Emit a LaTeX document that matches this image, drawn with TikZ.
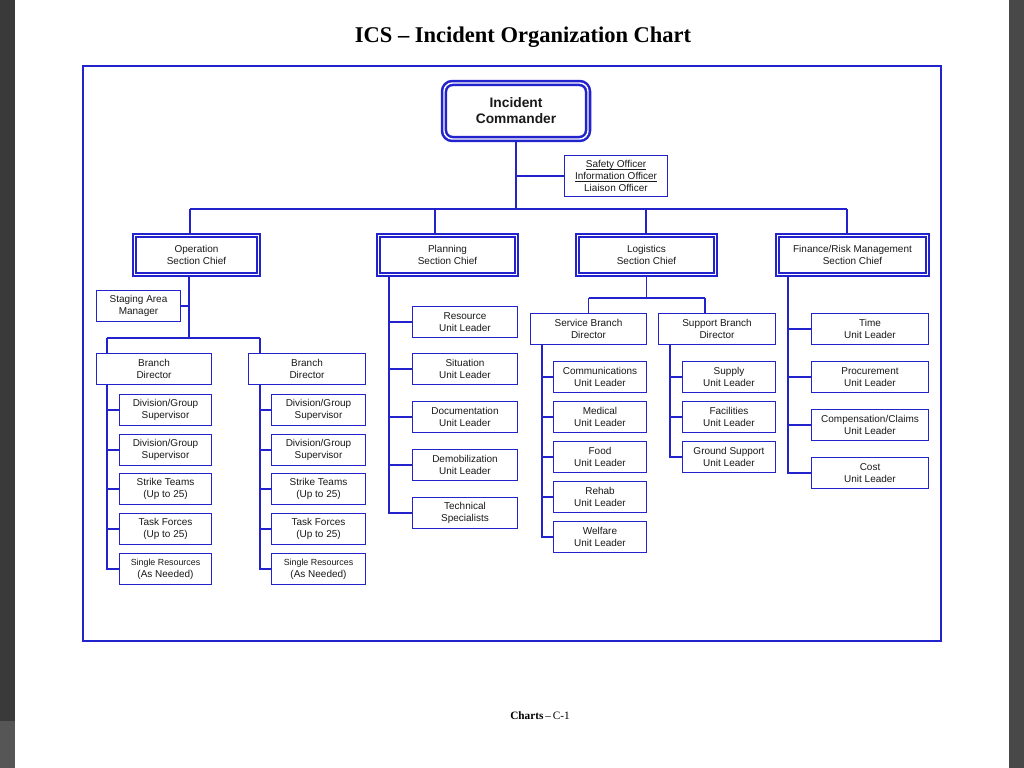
\documentclass[tikz,border=0pt]{standalone}
\usepackage{fontspec}
\setmainfont{Liberation Serif}
\newfontfamily\chartfont{Liberation Sans}
\usepackage{tikz}
\usetikzlibrary{calc}
\definecolor{chartblue}{RGB}{35,35,205}
\definecolor{textgray}{RGB}{25,25,25}
\definecolor{pagedark}{RGB}{58,58,58}
\definecolor{pagelight}{RGB}{86,86,86}
\definecolor{pageright}{RGB}{72,72,72}
\newcommand{\boxfont}{\chartfont\fontsize{7.1}{8.5}\selectfont}
\newcommand{\staffline}[1]{\underline{\smash{#1}}\vphantom{Ofy}}
\tikzset{
	link/.style={draw=chartblue, line width=1.2pt},
	unit/.style={
			draw=chartblue, line width=1.2pt, fill=white, text=textgray,
			font=\boxfont, align=center, inner sep=0pt,
			minimum height=0.78cm, minimum width=#1
		},
	unit/.default=2.33cm,
	section/.style={
			unit=#1, line width=1.1pt, double=white, double distance=0.8pt,
			minimum height=0.975cm
		},
	commander/.style={
			draw=chartblue, line width=1.8pt, double=white, double distance=1pt,
			rounded corners=6pt, fill=white, text=textgray, align=center,
			font=\chartfont\bfseries\fontsize{9.8}{11.4}\selectfont,
			minimum width=3.6cm, minimum height=1.4cm, inner sep=0pt
		}
}

\begin{document}
\begin{tikzpicture}[x=0.025cm, y=-0.025cm]
	\useasboundingbox (0,0) rectangle (1024,768);
	\fill[pagedark] (0,0) rectangle (15,721);
	\fill[pagelight] (0,721) rectangle (15,768);
	\fill[pageright] (1009,0) rectangle (1024,768);
	\draw[chartblue, line width=1.3pt] (83,66) rectangle (941,641);

	\node[font=\bfseries\fontsize{16}{19}\selectfont] (title) at (523,37) {ICS \textendash\ Incident Organization Chart};

	\node[commander] (ic) at (516,111) {Incident\\Commander};
	\node[unit=2.57cm, minimum height=1.03cm] (staff) at (616,176) {\staffline{Safety Officer}\\\staffline{Information Officer}\\Liaison Officer};

	\node[section=3.1cm] (ops) at (196.5,255) {Operation\\Section Chief};
	\node[section=3.45cm] (plan) at (447.5,255) {Planning\\Section Chief};
	\node[section=3.45cm] (logi) at (646.5,255) {Logistics\\Section Chief};
	\node[section=3.75cm] (fin) at (852.5,255) {Finance/Risk Management\\Section Chief};

	\node[unit=2.1cm] (stage) at (138.5,306) {Staging Area\\Manager};
	\node[unit=2.88cm] (brL) at (154,369) {Branch\\Director};
	\node[unit=2.93cm] (brR) at (307,369) {Branch\\Director};

	\node[unit=2.3cm] (opsL1) at (165.5,410) {Division/Group\\Supervisor};
	\node[unit=2.3cm] (opsL2) at (165.5,450) {Division/Group\\Supervisor};
	\node[unit=2.3cm] (opsL3) at (165.5,489) {Strike Teams\\(Up to 25)};
	\node[unit=2.3cm] (opsL4) at (165.5,529) {Task Forces\\(Up to 25)};
	\node[unit=2.3cm] (opsL5) at (165.5,569) {{\fontsize{6.3}{7}\selectfont Single Resources}\\(As Needed)};

	\node[unit=2.35cm] (opsR1) at (318.5,410) {Division/Group\\Supervisor};
	\node[unit=2.35cm] (opsR2) at (318.5,450) {Division/Group\\Supervisor};
	\node[unit=2.35cm] (opsR3) at (318.5,489) {Strike Teams\\(Up to 25)};
	\node[unit=2.35cm] (opsR4) at (318.5,529) {Task Forces\\(Up to 25)};
	\node[unit=2.35cm] (opsR5) at (318.5,569) {{\fontsize{6.3}{7}\selectfont Single Resources}\\(As Needed)};

	\node[unit=2.63cm] (plan1) at (465,322) {Resource\\Unit Leader};
	\node[unit=2.63cm] (plan2) at (465,369) {Situation\\Unit Leader};
	\node[unit=2.63cm] (plan3) at (465,417) {Documentation\\Unit Leader};
	\node[unit=2.63cm] (plan4) at (465,465) {Demobilization\\Unit Leader};
	\node[unit=2.63cm] (plan5) at (465,513) {Technical\\Specialists};

	\node[unit=2.9cm] (svc) at (588.5,329) {Service Branch\\Director};
	\node[unit=2.93cm] (sup) at (717,329) {Support Branch\\Director};

	\node[unit] (svc1) at (600,377) {Communications\\Unit Leader};
	\node[unit] (svc2) at (600,417) {Medical\\Unit Leader};
	\node[unit] (svc3) at (600,457) {Food\\Unit Leader};
	\node[unit] (svc4) at (600,497) {Rehab\\Unit Leader};
	\node[unit] (svc5) at (600,537) {Welfare\\Unit Leader};

	\node[unit] (sup1) at (729,377) {Supply\\Unit Leader};
	\node[unit] (sup2) at (729,417) {Facilities\\Unit Leader};
	\node[unit] (sup3) at (729,457) {Ground Support\\Unit Leader};

	\node[unit=2.93cm] (fin1) at (870,329) {Time\\Unit Leader};
	\node[unit=2.93cm] (fin2) at (870,377) {Procurement\\Unit Leader};
	\node[unit=2.93cm] (fin3) at (870,425) {Compensation/Claims\\Unit Leader};
	\node[unit=2.93cm] (fin4) at (870,473) {Cost\\Unit Leader};

	\coordinate (opsTop) at (190,209);
	\coordinate (planTop) at (435,209);
	\coordinate (logiTop) at (646,209);
	\coordinate (finTop) at (847,209);
	\draw[link] (ic.south) -- (ic.south |- opsTop);
	\draw[link] (ic.south |- staff.west) -- (staff.west);
	\draw[link] (opsTop) -- (finTop);
	\foreach \c/\s in {opsTop/ops, planTop/plan, logiTop/logi, finTop/fin}
		\draw[link] (\c) -- (\c |- \s.north);

	\coordinate (opsSpine) at (189,338);
	\coordinate (brLtop) at (107,338);
	\coordinate (brRtop) at (260,338);
	\draw[link] (opsSpine |- ops.south) -- (opsSpine);
	\draw[link] (stage.east) -- (stage.east -| opsSpine);
	\draw[link] (brLtop) -- (brRtop);
	\draw[link] (brLtop) -- (brLtop |- brL.north);
	\draw[link] (brRtop) -- (brRtop |- brR.north);
	\foreach \i in {1,...,5} {
		\draw[link] (brLtop |- brL.south) |- (opsL\i.west);
		\draw[link] (brRtop |- brR.south) |- (opsR\i.west);
	}

	\coordinate (planSpine) at (389,0);
	\foreach \i in {1,...,5}
		\draw[link] (planSpine |- plan.south) |- (plan\i.west);

	\coordinate (logiBus) at (646,298);
	\coordinate (supTop) at (705,298);
	\draw[link] (logi.south) -- (logi.south |- logiBus);
	\draw[link] (svc.north |- logiBus) -- (supTop);
	\draw[link] (svc.north |- logiBus) -- (svc.north);
	\draw[link] (supTop) -- (supTop |- sup.north);
	\coordinate (svcSpine) at (542,0);
	\coordinate (supSpine) at (670,0);
	\foreach \i in {1,...,5}
		\draw[link] (svcSpine |- svc.south) |- (svc\i.west);
	\foreach \i in {1,...,3}
		\draw[link] (supSpine |- sup.south) |- (sup\i.west);

	\coordinate (finSpine) at (788,0);
	\foreach \i in {1,...,4}
		\draw[link] (finSpine |- fin.south) |- (fin\i.west);

	\node[font=\fontsize{8}{10}\selectfont] (footer) at (540,716) {\textbf{Charts}\,\textendash\,C-1};
\end{tikzpicture}
\end{document}
